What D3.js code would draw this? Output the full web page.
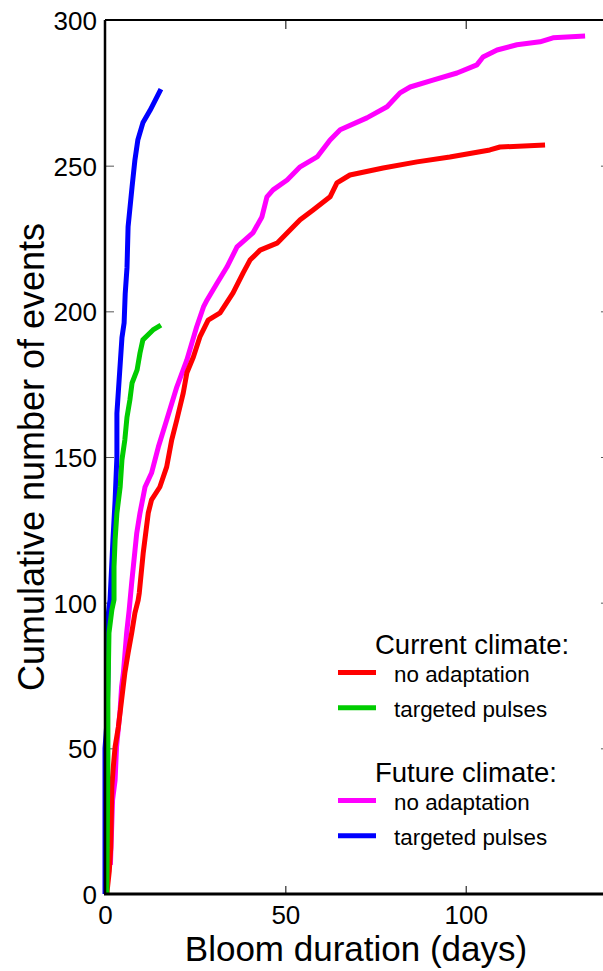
<!DOCTYPE html>
<html>
<head>
<meta charset="utf-8">
<script src="https://cdn.jsdelivr.net/npm/d3@7"></script>
<style>
  html, body { margin: 0; padding: 0; background: #fff; }
  svg text { font-family: "Liberation Sans", Arial, Helvetica, sans-serif; fill: #000; }
</style>
</head>
<body>
<svg id="chart" width="603" height="971"></svg>
<script>
(function() {
    // cumulative curves, [days, events]
    const currentNoAdapt = [
        [0.5, 0], [1.2, 8], [1.6, 16], [1.9, 37], [2.3, 43.6], [2.8, 50.5], [3.7, 57.3],
        [4.6, 66.6], [5.5, 75.9], [6.4, 82.7], [7.4, 89.6], [8.3, 96.5], [9.2, 100.9],
        [9.5, 103.3], [10.6, 117.1], [12.0, 130.8], [12.9, 135.3], [15.2, 139.7],
        [17.1, 146.6], [18.5, 155.9], [19.9, 162.7], [21.7, 172], [22.7, 178.9],
        [24.5, 184.3], [26.3, 191.2], [28.6, 197], [31.9, 199.5], [35.5, 206.3],
        [38.3, 213.2], [40.2, 217.6], [43.0, 221], [47.7, 223.4], [51.3, 227.9],
        [54.1, 231.4], [57.7, 234.8], [62.4, 239.3], [64.3, 244.1], [67.9, 246.8],
        [77.1, 249.2], [86.5, 251.3], [95.6, 253], [106.7, 255.4], [109.5, 256.4],
        [122.0, 257.1]
    ];
    const currentPulses = [
        [0.5, 0], [0.8, 46], [0.8, 66.6], [1.1, 89.6], [1.9, 97.5], [2.5, 101],
        [2.5, 112.3], [2.8, 121.5], [3.3, 130.8], [4.2, 139.7], [4.7, 149], [5.5, 155.9],
        [6.1, 163.7], [6.9, 169.6], [7.5, 175.4], [8.9, 179.9], [9.7, 185.7],
        [10.5, 190.2], [13.3, 193.6], [15.5, 195.3]
    ];
    const futureNoAdapt = [
        [1.5, 10], [2.1, 32.3], [2.8, 39.1], [3.2, 50.5], [4.2, 63.2], [4.6, 71.1],
        [5.1, 75.9], [6.0, 89.6], [6.7, 97.5], [7.4, 106.8], [8.8, 123.9], [9.7, 130.8],
        [11.1, 139.7], [12.9, 144.5], [14.8, 153.5], [17.1, 162.7], [19.9, 174],
        [22.7, 183.3], [25.4, 194.6], [27.3, 201.5], [28.3, 203.9], [31.1, 209.7],
        [33.8, 215.2], [36.6, 222.1], [41.0, 226.9], [43.5, 232.4], [44.9, 239.3],
        [46.6, 241.7], [50.5, 245.1], [54.1, 249.6], [58.8, 253], [62.4, 258.8],
        [65.2, 262.3], [72.6, 266.4], [78.2, 270.2], [81.8, 275], [84.6, 277],
        [90.9, 279.4], [97.6, 281.8], [103.1, 284.6], [104.8, 287.3], [108.7, 289.7],
        [114.2, 291.5], [120.6, 292.5], [124.2, 293.9], [133.1, 294.5]
    ];
    const futurePulses = [
        [0, 0], [0, 50], [0.3, 55], [0.6, 60], [0.9, 80], [0.6, 93], [1.4, 101],
        [2.2, 121.5], [2.8, 135], [3.3, 150], [3.3, 165], [4.7, 191], [5.3, 196],
        [5.6, 206], [6.1, 215], [6.4, 229], [7.5, 242.7], [8.3, 252], [9.1, 258.8],
        [10.5, 264.7], [12.5, 269], [15.5, 276.3]
    ];

    const xTicks = [0, 50, 100];
    const yTicks = [0, 50, 100, 150, 200, 250, 300];

    const seriesColors = {
        currentNoAdapt: "#ff0000",
        currentPulses: "#00cc00",
        futureNoAdapt: "#ff00ff",
        futurePulses: "#0000ff"
    };
    const seriesData = { currentNoAdapt, currentPulses, futureNoAdapt, futurePulses };

    const legendGroups = [
        { title: "Current climate:", items: [["no adaptation", "currentNoAdapt"], ["targeted pulses", "currentPulses"]] },
        { title: "Future climate:", items: [["no adaptation", "futureNoAdapt"], ["targeted pulses", "futurePulses"]] }
    ];

    const svg = d3.select("#chart");
    const margin = { left: 105, top: 20, bottom: 894 };

    const x = d3.scaleLinear().domain([0, 140]).range([margin.left, margin.left + 140 * 3.607]);
    const y = d3.scaleLinear().domain([0, 300]).range([margin.bottom, margin.top]);

    // Frame ticks (inward)
    const gAxes = svg.append("g").attr("class", "axes");

    gAxes.append("g")
        .attr("transform", `translate(0,${margin.bottom})`)
        .call(d3.axisBottom(x).tickValues(xTicks).tickSize(-8).tickPadding(11))
        .call(g => g.select(".domain").remove())
        .call(g => g.selectAll("text").attr("font-size", 26).attr("dy", "0.72em"))
        .call(g => g.selectAll("line").attr("stroke", "#000"));

    gAxes.append("g")
        .attr("transform", `translate(0,${margin.top})`)
        .call(d3.axisTop(x).tickValues(xTicks.filter(v => v > 0)).tickSize(-9).tickFormat(""))
        .call(g => g.select(".domain").remove());

    gAxes.append("g")
        .attr("transform", `translate(${margin.left},0)`)
        .call(d3.axisLeft(y).tickValues(yTicks).tickSize(-9).tickPadding(8))
        .call(g => g.select(".domain").remove())
        .call(g => g.selectAll("text").attr("font-size", 26).attr("dx", "0").attr("dy", "0.36em"))
        .call(g => g.selectAll("line").attr("stroke", "#555"));

    gAxes.append("g")
        .attr("transform", `translate(${x(140)},0)`)
        .call(d3.axisRight(y).tickValues(yTicks).tickSize(-9).tickFormat(""))
        .call(g => g.select(".domain").remove())
        .call(g => g.selectAll("line").attr("stroke", "#555"));

    // Curves
    const line = d3.line()
        .x(d => x(d[0]))
        .y(d => y(d[1]));

    const drawOrder = ["futureNoAdapt", "currentNoAdapt", "futurePulses", "currentPulses"];
    svg.append("g").attr("class", "curves")
        .selectAll("path")
        .data(drawOrder)
        .join("path")
        .attr("d", k => line(seriesData[k]))
        .attr("fill", "none")
        .attr("stroke", k => seriesColors[k])
        .attr("stroke-width", 5)
        .attr("stroke-linejoin", "round")
        .attr("stroke-linecap", "butt");

    // Frame lines
    svg.append("line")
        .attr("x1", margin.left).attr("x2", 603)
        .attr("y1", margin.top).attr("y2", margin.top)
        .attr("stroke", "#000").attr("stroke-width", 2);
    svg.append("line")
        .attr("x1", margin.left).attr("x2", margin.left)
        .attr("y1", margin.top).attr("y2", margin.bottom)
        .attr("stroke", "#000").attr("stroke-width", 2.5);
    svg.append("line")
        .attr("x1", margin.left - 1).attr("x2", 603)
        .attr("y1", margin.bottom).attr("y2", margin.bottom)
        .attr("stroke", "#000").attr("stroke-width", 3);

    // Axis titles
    svg.append("text")
        .attr("x", 356).attr("y", 961)
        .attr("text-anchor", "middle")
        .attr("font-size", 35)
        .text("Bloom duration (days)");

    svg.append("text")
        .attr("transform", "translate(44,457) rotate(-90)")
        .attr("text-anchor", "middle")
        .attr("font-size", 36)
        .text("Cumulative number of events");

    // Legend
    const legend = svg.append("g").attr("class", "legend");
    const groupTop = [654, 782];
    legendGroups.forEach((grp, gi) => {
        const base = groupTop[gi];
        legend.append("text")
            .attr("x", 375).attr("y", base)
            .attr("font-size", 27.5)
            .text(grp.title);
        grp.items.forEach((it, i) => {
            const cy = base + 18.5 + i * 35.3;
            legend.append("line")
                .attr("x1", 338).attr("x2", 376)
                .attr("y1", cy).attr("y2", cy)
                .attr("stroke", seriesColors[it[1]])
                .attr("stroke-width", 5);
            legend.append("text")
                .attr("x", 394).attr("y", cy + 9)
                .attr("font-size", 22.4)
                .text(it[0]);
        });
    });
})();
</script>
</body>
</html>
